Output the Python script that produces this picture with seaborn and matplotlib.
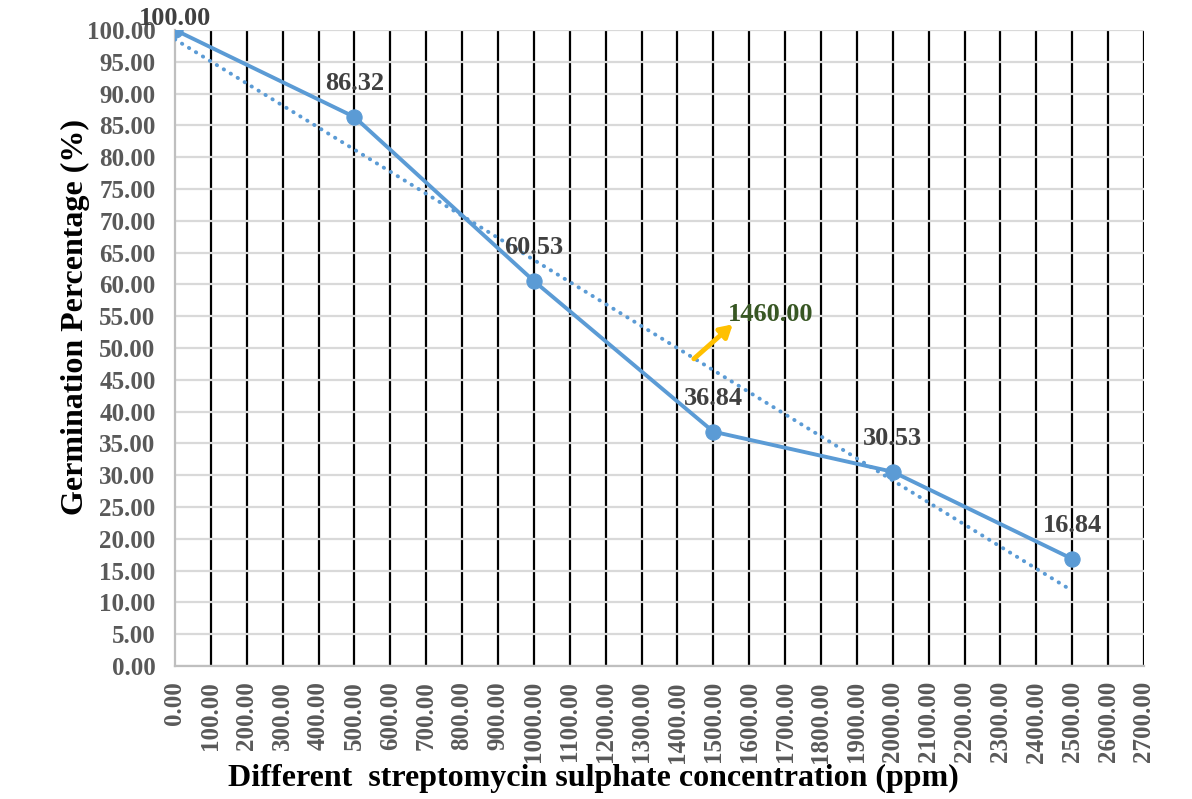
import matplotlib
matplotlib.use("Agg")
import matplotlib.pyplot as plt
import seaborn as sns
import pandas as pd
import numpy as np

concentration = [0, 500, 1000, 1500, 2000, 2500]
germination = [100.00, 86.32, 60.53, 36.84, 30.53, 16.84]
x_ticks = list(range(0, 2701, 100))
y_ticks = list(range(0, 101, 5))
callout_text = "1460.00"

df = pd.DataFrame({"conc": concentration, "germ": germination})

sns.set_theme(style="white")
plt.rcParams['font.family'] = ['Liberation Serif', 'DejaVu Serif']

fig = plt.figure(figsize=(11.92, 7.99), dpi=100)
ax = fig.add_axes([0.1468, 0.1665, 0.8129, 0.796])

blue = "#5B9BD5"
sns.regplot(data=df, x="conc", y="germ", ax=ax, scatter=False, ci=None,
            line_kws=dict(color=blue, lw=2.8, linestyle=(0, (0.1, 2.0)),
                          dash_capstyle="round", zorder=3))
sns.lineplot(data=df, x="conc", y="germ", ax=ax, color=blue, lw=2.8,
             marker="o", markersize=11, markeredgecolor=blue, zorder=4)

ax.set_xlim(0, 2700)
ax.set_ylim(0, 100)
ax.set_xticks(x_ticks)
ax.set_yticks(y_ticks)
ax.set_xticklabels([f"{v:.2f}" for v in x_ticks], rotation=90)
ax.set_yticklabels([f"{v:.2f}" for v in y_ticks])
ax.tick_params(axis="both", length=0, labelcolor="#595959", labelsize=18)
ax.tick_params(axis="y", pad=14)
ax.tick_params(axis="x", pad=11)
for lab in ax.get_xticklabels() + ax.get_yticklabels():
    lab.set_fontweight("bold")

ax.grid(axis="x", color="black", lw=1.6, zorder=0)
ax.grid(axis="y", color="#d9d9d9", lw=1.6, zorder=0)
ax.set_axisbelow(True)
ax.xaxis.get_gridlines()[0].set_visible(False)
for s in ["top", "right"]:
    ax.spines[s].set_visible(False)
for s in ["left", "bottom"]:
    ax.spines[s].set_color("#bfbfbf")
    ax.spines[s].set_linewidth(1.6)

ax.set_xlabel("Different  streptomycin sulphate concentration (ppm)",
              fontsize=23, fontweight="bold", color="black", va="center")
ax.xaxis.set_label_coords((593 - 175) / 969, (666 - 778) / 636)
ax.set_ylabel("Germination Percentage (%)", fontsize=23, fontweight="bold",
              color="black", va="center", ha="center")
ax.yaxis.set_label_coords((75 - 175) / 969, (666 - 317) / 636)

for i, (xv, yv) in enumerate(zip(concentration, germination)):
    off = 8 if i == 0 else 24
    ax.annotate(f"{yv:.2f}", (xv, yv), xytext=(0, off), textcoords="offset points",
                ha="center", va="center", fontsize=19, fontweight="bold",
                color="#404040", annotation_clip=False, zorder=5)

ax.annotate("", xy=(1560, 54.0), xytext=(1440, 48.0),
            arrowprops=dict(arrowstyle="-|>,head_length=0.6,head_width=0.35",
                            color="#FFC000", lw=3.5), zorder=5)
ax.text(1540, 55.2, callout_text, fontsize=19, fontweight="bold",
        color="#375623", ha="left", va="center", zorder=5)

fig.savefig("out.png", dpi=100)
